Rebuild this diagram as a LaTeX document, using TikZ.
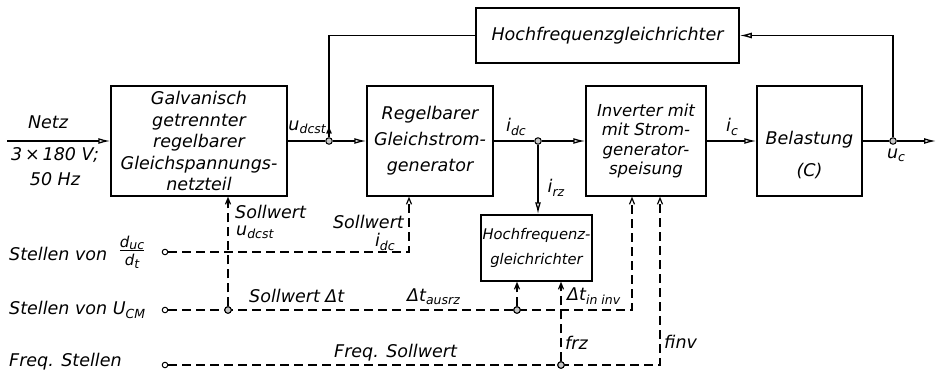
\documentclass[tikz,border=0pt]{standalone}
\usepackage{fontspec}
\setmainfont{DejaVu Sans}
\usetikzlibrary{arrows.meta}
\newcommand\lw[1]{\raisebox{-0.35ex}{\fontsize{12.5}{12.5}\selectfont #1}}
\tikzset{
  every node/.style={font=\fontsize{17.5}{21}\selectfont\itshape},
  box/.style={draw, line width=1.5pt, inner sep=0pt, align=center},
  line/.style={line width=1.3pt},
  arr/.style={line width=1.3pt, -{Latex[open,length=12pt,width=6pt]}},
  dline/.style={line width=1.2pt, dash pattern=on 9pt off 5pt},
  darr/.style={dline, -{Straight Barb[length=6pt,width=5pt]}},
  junc/.style={circle, draw, line width=1pt, fill=gray!45, inner sep=0pt, minimum size=6.5pt},
  term/.style={circle, draw, line width=1pt, fill=white, inner sep=0pt, minimum size=5.5pt},
  lbl/.style={inner sep=1pt},
}
\begin{document}
\begin{tikzpicture}[x=1pt,y=-1pt]
\useasboundingbox (0,0) rectangle (939,377);
% boxes
\node[box, minimum width=176pt, minimum height=110pt, font=\fontsize{17.5}{21.5}\selectfont\itshape] (b1) at (199,141)
  {Galvanisch\\getrennter\\regelbarer\\Gleichspannungs-\\netzteil};
\node[box, minimum width=126pt, minimum height=110pt, font=\fontsize{17.5}{26}\selectfont\itshape] (b2) at (430,141)
  {Regelbarer\\Gleichstrom-\\generator};
\node[box, minimum width=120pt, minimum height=110pt, font=\fontsize{16.5}{19.5}\selectfont\itshape] (b3) at (646,141)
  {Inverter mit\\mit Strom-\\generator-\\speisung};
\node[box, minimum width=105pt, minimum height=110pt] (b4) at (809.5,141) {};
\node[align=center, font=\fontsize{17.5}{32}\selectfont\itshape] (b4t) at ([yshift=-14pt]b4.center)
  {Belastung\\(C)};
\node[box, minimum width=263pt, minimum height=55pt] (hf1) at (607.5,35.5) {Hochfrequenzgleichrichter};
\node[box, minimum width=111pt, minimum height=66pt, font=\fontsize{14.7}{25}\selectfont\itshape] (hf2) at (536.5,248)
  {Hochfrequenz-\\gleichrichter};

% junctions / terminals
\coordinate (in) at (7,141);
\coordinate (out) at (936,141);
\node[junc] (jA) at (329,141) {};
\node[junc] (jB) at (538,141) {};
\node[junc] (jC) at (893,141) {};
\node[term] (s1) at (165,252) {};
\node[term] (s2) at (165,310) {};
\node[term] (s3) at (165,365) {};
\coordinate (c1) at (409,252);
\coordinate (c2) at (632,310);
\coordinate (c3) at (660,365);

% main signal path
\draw[arr] (in) -- (b1.west);
\draw[line] (b1.east) -- (jA);
\draw[arr] (jA) -- (b2.west |- jA);
\draw[line] (b2.east |- jB) -- (jB);
\draw[arr] (jB) -- (b3.west |- jB);
\draw[arr] (b3.east |- jB) -- (b4.west |- jB);
\draw[line] (b4.east |- jC) -- (jC);
\draw[arr] (jC) -- (out);
\draw[arr] (jB) -- (jB |- hf2.north);
\draw[arr] (jC) -- (jC |- hf1.east) -- (hf1.east);
\draw[line] (jA) -- (jA |- hf1.west) -- (hf1.west);
\draw[line, -{Straight Barb[length=5pt,width=4.5pt]}] (jA) -- ([yshift=14pt]jA.center);

% dashed set-value lines
\draw[darr] (s1) -- (c1) -- (b2.south -| c1);
\draw[darr] (s2) -- (c2) -- (b3.south -| c2);
\draw[darr] (s3) -- (c3) -- (b3.south -| c3);
\node[junc] (j2) at (228,310) {};
\node[junc] (j3) at (517,310) {};
\node[junc] (j4) at (561,365) {};
\draw[darr] (j2) -- (b1.south -| j2);
\draw[darr] (j3) -- (hf2.south -| j3);
\draw[darr] (j4) -- (hf2.south -| j4);
\node[junc] at (j2) {};
\node[junc] at (j3) {};
\node[junc] at (j4) {};

% labels
\node[lbl] (tNetz) at (48,122) {Netz};
\node[lbl] (tV) at (55,155) {3\,×\,180 V;};
\node[lbl] (tHz) at (55,179) {50 Hz};
\node[lbl, anchor=east] (tudc) at (327,127) {u\lw{dcst}};
\node[lbl] (tidc) at (516,127) {i\lw{dc}};
\node[lbl] (tirz) at (556,188) {i\lw{rz}};
\node[lbl] (tic) at (732,127) {i\lw{c}};
\node[lbl] (tuc) at (896,155) {u\lw{c}};
\node[lbl, anchor=west] (t1) at (8,254) {Stellen von};
\node[lbl] (tfrac) at (132,252) {\begin{tabular}{@{}c@{}}\fontsize{15}{15}\selectfont\itshape d\lw{uc}\\[-3pt]\hline\fontsize{15}{15}\selectfont\itshape d\lw{t}\end{tabular}};
\node[lbl, anchor=west] (t2) at (8,310) {Stellen von U\lw{CM}};
\node[lbl, anchor=west] (t3) at (8,362) {Freq. Stellen};
\node[lbl, anchor=west] (tsu1) at (234,212) {Sollwert};
\node[lbl, anchor=west] (tsu2) at (235,232) {u\lw{dcst}};
\node[lbl, anchor=east] (tsi1) at (405,222) {Sollwert};
\node[lbl, anchor=east] (tsi2) at (396,242) {i\lw{dc}};
\node[lbl, anchor=west] (tdt) at (248,296) {Sollwert Δt};
\node[lbl, anchor=west] (tdta) at (406,297) {Δt\lw{ausrz}};
\node[lbl, anchor=west] (tdti) at (566,296) {Δt\lw{in inv}};
\node[lbl, anchor=west] (tfs) at (333,353) {Freq. Sollwert};
\node[lbl, anchor=west] (tfrz) at (564,343) {frz};
\node[lbl, anchor=west] (tfinv) at (663,342) {finv};
\end{tikzpicture}
\end{document}
